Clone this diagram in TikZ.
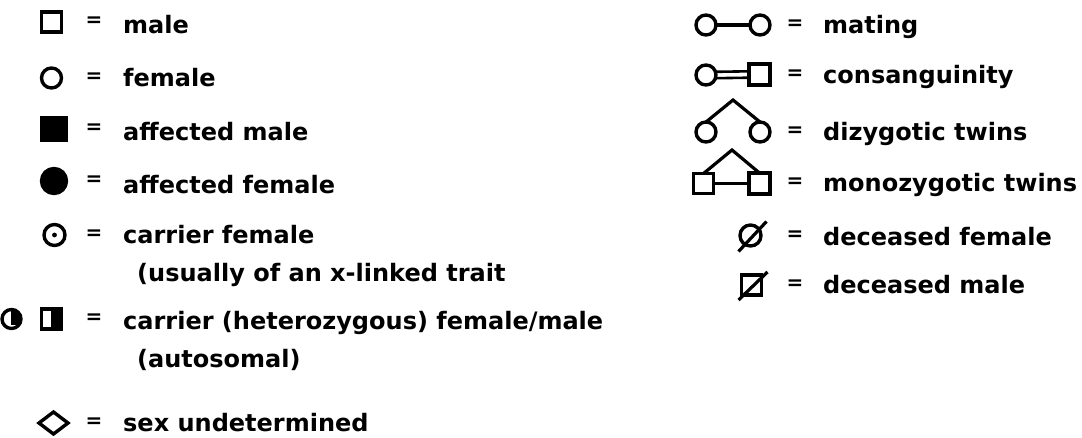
\documentclass[tikz,border=0pt]{standalone}
\usepackage{fontspec}
\setmainfont{DejaVu Sans}
\usetikzlibrary{shapes.geometric}
\begin{document}
\begin{tikzpicture}[x=1pt,y=-1pt,
  sym/.style={draw=black, line width=3.4pt, inner sep=0pt, outer sep=0pt},
  sq/.style={sym, rectangle, minimum size=#1},
  ci/.style={sym, circle, minimum size=#1},
  lbl/.style={anchor=base west, inner sep=0pt, font=\fontsize{24}{28}\selectfont\bfseries},
  eq/.style={anchor=center, inner sep=0pt, font=\fontsize{20}{22}\selectfont\bfseries},
  conn/.style={line width=3.2pt}
]
\useasboundingbox (0,0) rectangle (1082,437);

% ---------- left column ----------
\node[sq=20pt] (male) at (51.5,22) {};
\node[eq] (e1) at (94,22) {=};
\node[lbl] (t1) at (123,33) {male};

\node[ci=20pt] (fem) at (51.5,78) {};
\node[eq] (e2) at (94,78) {=};
\node[lbl] (t2) at (123,86) {female};

\node[sq=24pt, fill=black, minimum height=23pt] (amale) at (54,129) {};
\node[eq] (e3) at (94,129) {=};
\node[lbl] (t3) at (123,140) {affected male};

\node[ci=25pt, fill=black] (afem) at (54,181) {};
\node[eq] (e4) at (94,181) {=};
\node[lbl] (t4) at (123,193) {affected female};

\node[ci=21pt] (cfem) at (54.5,235) {};
\fill (cfem.center) circle[radius=2.4pt];
\node[eq] (e5) at (94,235) {=};
\node[lbl] (t5) at (123,243) {carrier female};
\node[lbl] (t5b) at (137,281) {(usually of an x-linked trait};

\node[ci=19pt] (hfem) at (11.5,319) {};
\begin{scope}
  \clip ([xshift=-0.5pt]hfem.north) rectangle ([xshift=14pt,yshift=4pt]hfem.south);
  \fill (hfem.center) circle[radius=10pt];
\end{scope}
\node[sq=20pt] (hmale) at (51.5,319) {};
\fill ([xshift=-1pt]hmale.north) rectangle (hmale.south east);
\node[eq] (e6) at (94,319) {=};
\node[lbl] (t6) at (123,329) {carrier (heterozygous) female/male};
\node[lbl] (t6b) at (137,367) {(autosomal)};

\node[sym, diamond, minimum width=29pt, minimum height=22pt] (sexu) at (53.5,423) {};
\node[eq] (e7) at (94,423) {=};
\node[lbl] (t7) at (123,431) {sex undetermined};

% ---------- right column ----------
\node[ci=20pt] (ma1) at (706,25) {};
\node[ci=20pt] (ma2) at (760,25) {};
\draw[conn] (ma1) -- (ma2);
\node[eq] (r1) at (795,25) {=};
\node[lbl] (u1) at (823,33) {mating};

\node[ci=20pt] (co1) at (706,75) {};
\node[sq=21pt] (co2) at (759.5,74.5) {};
\draw[line width=2.6pt] ([yshift=-3.2pt]co1.east) -- ([yshift=-3.2pt]co2.west);
\draw[line width=2.6pt] ([yshift=3.2pt]co1.east) -- ([yshift=3.2pt]co2.west);
\node[eq] (r2) at (795,75) {=};
\node[lbl] (u2) at (823,83) {consanguinity};

\coordinate (dzA) at (733,100);
\node[ci=20pt] (dz1) at (706,132) {};
\node[ci=20pt] (dz2) at (760,132) {};
\draw[conn, line join=miter] (dz1.north) -- (dzA) -- (dz2.north);
\node[eq] (r3) at (795,132) {=};
\node[lbl] (u3) at (823,140) {dizygotic twins};

\coordinate (mzA) at (732,150);
\node[sq=20pt] (mz1) at (703.5,183.5) {};
\node[sq=21pt] (mz2) at (759.5,183.5) {};
\draw[conn, line join=miter] (mz1.north) -- (mzA) -- (mz2.north);
\draw[conn] (mz1) -- (mz2);
\node[eq] (r4) at (795,183) {=};
\node[lbl] (u4) at (823,191) {monozygotic twins};

\node[ci=21pt] (df) at (750.5,235.5) {};
\draw[conn] ([shift={(-12,16)}]df.center) -- ([shift={(16,-14)}]df.center);
\node[eq] (r5) at (795,236) {=};
\node[lbl] (u5) at (823,245) {deceased female};

\node[sq=20pt] (dm) at (751.5,285) {};
\draw[conn] ([shift={(-13,15)}]dm.center) -- ([shift={(16,-13)}]dm.center);
\node[eq] (r6) at (795,285) {=};
\node[lbl] (u6) at (823,293) {deceased male};
\end{tikzpicture}
\end{document}
